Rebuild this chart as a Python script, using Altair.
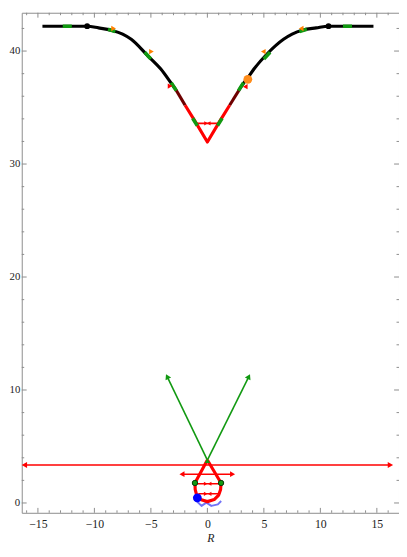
import altair as alt
import pandas as pd

FONT = "Liberation Serif"
W, H = 384, 509
XDOM = [-16.43, 16.96]
YDOM = [-0.87, 43.39]

# ---------------- data ----------------
# black potential curve (left / right branches)
black_L_R = [-14.6, -12.0, -10.64, -9.63, -8.47, -7.5, -6.74, -5.29, -4.14, -2.98, -2.8]
black_L_y = [42.2, 42.2, 42.2, 42.05, 41.83, 41.5, 41.04, 39.6, 38.43, 36.84, 36.6]
black_R_R = [2.81, 2.98, 3.54, 4.14, 5.28, 6.74, 7.5, 8.46, 9.63, 10.72, 12.0, 14.7]
black_R_y = [36.55, 36.84, 37.57, 38.43, 39.74, 41.04, 41.5, 41.86, 42.05, 42.2, 42.2, 42.2]
# dark red transition pieces
dred_L_R = [-2.8, -1.97]
dred_L_y = [36.6, 35.2]
dred_R_R = [1.97, 2.81]
dred_R_y = [35.2, 36.55]
# red V
redV_R = [-1.97, -1.1, 0.0, 1.1, 1.97]
redV_y = [35.2, 33.8, 31.95, 33.8, 35.2]
# red bar inside the V
bar_R = [-0.99, 0.99]
bar_y = [33.6, 33.6]
# green marks along the curve (start / end)
gseg_R0 = [-12.8, -8.8, -5.55, -3.2, -1.3, 1.3, 3.2, 5.55, 8.8, 12.8]
gseg_y0 = [42.2, 41.93, 39.9, 37.2, 34.05, 34.05, 37.2, 39.9, 41.93, 42.2]
gseg_R1 = [-12.0, -8.15, -5.0, -2.75, -0.9, 0.9, 2.75, 5.0, 8.15, 12.0]
gseg_y1 = [42.2, 41.72, 39.3, 36.5, 33.4, 33.4, 36.5, 39.3, 41.72, 42.2]
# orange arrowheads on curve
orange_R = [-8.3, -4.95, 4.95, 8.3]
orange_y = [42.0, 39.95, 39.95, 42.0]
orange_shape = ["triangle-right", "triangle-right", "triangle-left", "triangle-left"]
# red arrowheads on curve
redhead_R = [-3.3, 3.35]
redhead_y = [36.9, 36.85]
redhead_shape = ["triangle-right", "triangle-left"]
# black dots
bdot_R = [-10.64, 10.72]
bdot_y = [42.2, 42.2]
# orange dot
odot_R = [3.58]
odot_y = [37.5]

# bottom structure
long_R = [-16.2, 16.2]
long_y = [3.36, 3.36]
garrow_R0 = [0.0, 0.0]
garrow_y0 = [3.8, 3.8]
garrow_R1 = [-3.56, 3.67]
garrow_y1 = [11.19, 11.19]
garrow_angle = [334, 26]
dbl_R = [-2.25, 2.23]
dbl_y = [2.55, 2.55]
tear_R = [0.0, -1.1, -1.08, -0.95, -0.6, 0.0, 0.6, 1.0, 1.17, 1.21, 0.0]
tear_y = [3.8, 1.77, 1.2, 0.7, 0.3, 0.12, 0.3, 0.7, 1.2, 1.77, 3.8]
mid_R = [-0.95, 1.07]
mid_y = [1.7, 1.7]
low_R = [-0.8, 1.05]
low_y = [0.81, 0.81]
pair_R = [-0.15, 0.2, -0.15, 0.2, -0.12, 0.12]
pair_y = [1.7, 1.7, 0.81, 0.81, 33.6, 33.6]
pair_shape = ["triangle-right", "triangle-left"] * 3
gdot_R = [-1.1, 1.21]
gdot_y = [1.77, 1.77]
blue_R = [-0.96, -0.52, -0.09, 0.35, 0.93, 1.22]
blue_y = [0.17, -0.26, 0.03, -0.26, -0.12, 0.17]
bluedot_R = [-0.89]
bluedot_y = [0.46]

# ticks
x_major = [-15, -10, -5, 0, 5, 10, 15]
x_minor = [v for v in range(-16, 17) if v % 5 != 0]
y_major = [0, 10, 20, 30, 40]
y_minor = [v for v in range(2, 44, 2) if v % 10 != 0]

# ---------------- encodings ----------------
xsc = alt.Scale(domain=XDOM, nice=False, zero=False)
ysc = alt.Scale(domain=YDOM, nice=False, zero=False)
xax = alt.Axis(values=x_major, ticks=False, domain=False, grid=False, labelFont=FONT,
               labelFontSize=12, labelColor="#222", labelPadding=6, labelFlush=False,
               labelOverlap=False, format="d", titleFont=FONT, titleFontSize=12,
               titleFontStyle="italic", titleFontWeight="normal", titleColor="#222",
               titlePadding=3)
yax = alt.Axis(values=y_major, ticks=False, domain=False, grid=False, labelFont=FONT,
               labelFontSize=11, labelColor="#222", labelPadding=2, labelFlush=False,
               labelOverlap=False, format="d")


def X(f):
    return alt.X(f, type="quantitative", scale=xsc, axis=xax, title="R")


def Y(f):
    return alt.Y(f, type="quantitative", scale=ysc, axis=yax, title=None)


def lines(Rs, ys, color, width, interp="linear"):
    rows = []
    for g, (rr, yy) in enumerate(zip(Rs, ys)):
        for i, (r, y) in enumerate(zip(rr, yy)):
            rows.append({"R": r, "y": y, "g": g, "i": i})
    return alt.Chart(pd.DataFrame(rows)).mark_line(
        color=color, strokeWidth=width, strokeCap="butt", strokeJoin="round",
        interpolate=interp, clip=True
    ).encode(x=X("R"), y=Y("y"), detail="g:N", order="i:Q")


def points(Rs, ys, color, shape, size, extra=None):
    d = {"R": Rs, "y": ys}
    if extra:
        d.update(extra)
    sh = alt.Shape(shape, scale=None) if shape.endswith(":N") else alt.value(shape)
    return alt.Chart(pd.DataFrame(d)).mark_point(
        filled=True, color=color, size=size, opacity=1
    ).encode(x=X("R"), y=Y("y"), shape=sh)


def segs(R0, y0, R1, y1):
    return ([[a, b] for a, b in zip(R0, R1)], [[a, b] for a, b in zip(y0, y1)])


gR, gY = segs(gseg_R0, gseg_y0, gseg_R1, gseg_y1)
aR, aY = segs(garrow_R0, garrow_y0, garrow_R1, garrow_y1)

layers = [
    lines([long_R], [long_y], "#ff0000", 1.6),
    points([long_R[0]], [long_y[0]], "#ff0000", "triangle-left", 40),
    points([long_R[1]], [long_y[1]], "#ff0000", "triangle-right", 40),
    lines(aR, aY, "#119911", 1.6),
    alt.Chart(pd.DataFrame({"R": garrow_R1, "y": garrow_y1, "a": garrow_angle})).mark_point(
        filled=True, color="#119911", size=40, shape="triangle-up", opacity=1
    ).encode(x=X("R"), y=Y("y"), angle=alt.Angle("a:Q", scale=None)),
    lines([dbl_R], [dbl_y], "#ff0000", 1.6),
    points([dbl_R[0]], [dbl_y[0]], "#ff0000", "triangle-left", 35),
    points([dbl_R[1]], [dbl_y[1]], "#ff0000", "triangle-right", 35),
    lines([blue_R], [blue_y], "#7373f7", 2.0),
    lines([tear_R], [tear_y], "#ff0000", 3.2),
    lines([mid_R, low_R], [mid_y, low_y], "#ff0000", 1.6),
    points(pair_R, pair_y, "#ff0000", "s:N", 18, extra={"s": pair_shape}),
    points([0.0], [3.75], "#119911", "triangle-up", 30),
    alt.Chart(pd.DataFrame({"R": gdot_R, "y": gdot_y})).mark_point(
        filled=True, color="#119911", size=30, shape="circle", stroke="#063806",
        strokeWidth=1, opacity=1
    ).encode(x=X("R"), y=Y("y")),
    points(bluedot_R, bluedot_y, "#0000ff", "circle", 80),
    # top curve
    lines([black_L_R, black_R_R], [black_L_y, black_R_y], "#000000", 3.2, "monotone"),
    lines([dred_L_R, dred_R_R], [dred_L_y, dred_R_y], "#6e0000", 3.2),
    lines([redV_R], [redV_y], "#ff0000", 3.2),
    lines([bar_R], [bar_y], "#ff0000", 1.6),
    lines(gR, gY, "#119911", 3.6),
    points(orange_R, orange_y, "#ff8000", "s:N", 30, extra={"s": orange_shape}),
    points(redhead_R, redhead_y, "#ff0000", "s:N", 30, extra={"s": redhead_shape}),
    points(bdot_R, bdot_y, "#000000", "circle", 35),
    points(odot_R, odot_y, "#ff8c1a", "circle", 80),
]

# inward frame ticks
TC = "#8c8c8c"


def xticks(vals, L):
    df = pd.DataFrame({"v": vals})
    b = alt.Chart(df).mark_rule(color=TC, strokeWidth=1).encode(
        x=X("v"), y=alt.value(H), y2=alt.value(H - L))
    t = alt.Chart(df).mark_rule(color=TC, strokeWidth=1).encode(
        x=X("v"), y=alt.value(0), y2=alt.value(L))
    return [b, t]


def yticks(vals, L):
    df = pd.DataFrame({"v": vals})
    l = alt.Chart(df).mark_rule(color=TC, strokeWidth=1).encode(
        y=Y("v"), x=alt.value(0), x2=alt.value(L))
    r = alt.Chart(df).mark_rule(color=TC, strokeWidth=1).encode(
        y=Y("v"), x=alt.value(W), x2=alt.value(W - L))
    return [l, r]


tick_layers = xticks(x_major, 5) + xticks(x_minor, 2.5) + yticks(y_major, 5) + yticks(y_minor, 2.5)

chart = alt.layer(*(tick_layers + layers)).properties(
    width=W, height=H,
    autosize=alt.AutoSizeParams(type="none"),
    padding={"left": 14, "top": 0, "right": 0, "bottom": 32},
).configure_view(stroke="#8c8c8c", strokeWidth=1)

chart.save("out.html", embed_options={"renderer": "svg", "actions": False})
